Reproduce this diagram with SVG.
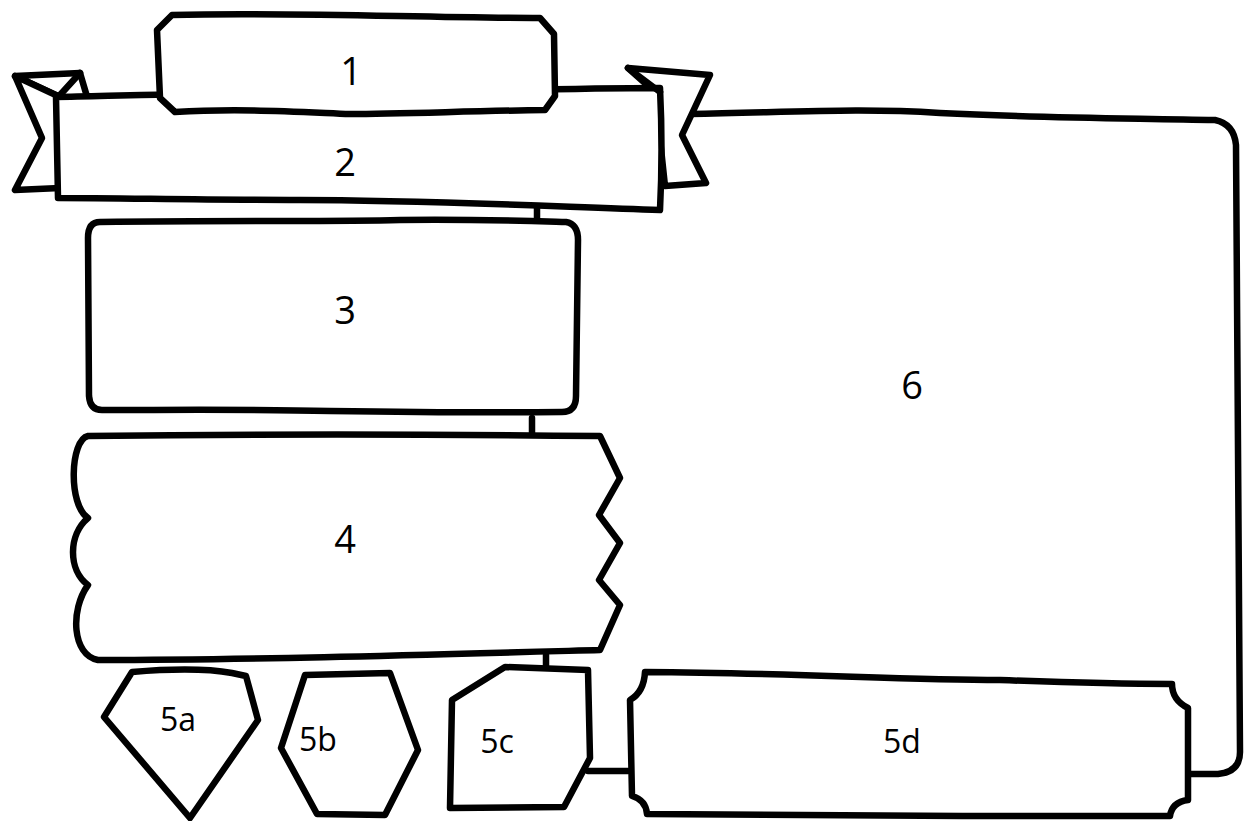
<svg xmlns="http://www.w3.org/2000/svg" width="1253" height="821" viewBox="0 0 1253 821">
<style>
.s{fill:#fff;stroke:#000;stroke-width:6.5;stroke-linejoin:round;stroke-linecap:round}
.c{fill:none;stroke:#000;stroke-width:6.5;stroke-linejoin:round;stroke-linecap:round}
.t{font-family:"Open Sans","DejaVu Sans",sans-serif;font-size:38px;fill:#000;text-anchor:middle;dominant-baseline:central}
.ts{font-family:"Open Sans","DejaVu Sans",sans-serif;font-size:32px;fill:#000;text-anchor:middle;dominant-baseline:central}
</style>
<rect width="1253" height="821" fill="#fff"/>
<g id="connectors">
<path class="c" d="M537 205 L537 222"/>
<path class="c" d="M532 418 L532 436"/>
<path class="c" d="M546 655 L546 670"/>
<path class="c" d="M588 771 L628 771"/>
</g>
<g id="node6">
<path class="c" d="M690 114 C800 112 860 108 940 113 C1040 118 1120 118 1215 120 Q1234 124 1236 145 L1240 752 Q1240 772 1218 774 L1187 774"/>
<text class="t" x="912" y="384">6</text>
</g>
<g id="node2">
<path class="s" d="M60 97 L15 76 L80 73 L88 100 Z"/>
<path class="s" d="M15 76 L42 138 L15 190 L60 188 L60 97 Z"/>
<path class="s" d="M655 92 L628 68 L710 75 L682 135 L706 183 L665 186 Z"/>
<path class="s" d="M56 97 C120 96 200 92 300 95 C420 94 540 88 660 88 Q663 150 660 210 C540 206 420 200 300 200 C200 200 120 198 58 198 Q57 150 56 97 Z"/>
<path class="c" d="M628 68 L660 92"/>
<path class="c" d="M80 73 L60 95"/>
<text class="t" x="345" y="161">2</text>
</g>
<g id="node1">
<path class="s" d="M172 15 C300 12 420 18 540 18 L554 34 L555 96 L545 110 C470 111 400 114 350 114 C300 112 240 108 175 112 L160 98 L157 30 Z"/>
<text class="t" x="351" y="70">1</text>
</g>
<g id="node3">
<path class="s" d="M100 222 C250 220 330 222 400 220 C470 219 530 221 566 222 Q578 224 578 240 L576 396 Q576 412 562 412 C470 413 400 412 330 411 C250 409 170 410 102 410 Q90 410 89 396 L88 238 Q88 222 100 222 Z"/>
<text class="t" x="345" y="309">3</text>
</g>
<g id="node4">
<path class="s" d="M88 436 C250 434 420 434 600 436 L620 478 L599 515 L620 543 L599 580 L620 605 L600 650 C420 655 250 660 98 660 C72 655 70 610 88 585 C68 570 68 535 88 518 C68 505 70 440 88 436 Z"/>
<text class="t" x="345" y="538">4</text>
</g>
<g id="node5a">
<path class="s" d="M132 672 C180 668 215 670 232 673 L246 676 L258 720 L190 818 L104 717 Z"/>
<text class="ts" x="178" y="718">5a</text>
</g>
<g id="node5b">
<path class="s" d="M305 675 L390 673 L418 750 L385 815 L317 814 L281 748 Z"/>
<text class="ts" x="318" y="738">5b</text>
</g>
<g id="node5c">
<path class="s" d="M452 700 L505 667 L588 670 L590 758 L564 807 L450 808 Z"/>
<text class="ts" x="497" y="740">5c</text>
</g>
<g id="node5d">
<path class="s" d="M645 672 C800 673 900 680 1000 680 C1080 683 1130 684 1172 684 Q1172 700 1188 708 L1188 800 Q1172 802 1170 816 C1000 816 800 816 647 814 Q646 800 632 796 L630 700 Q644 692 645 672 Z"/>
<text class="ts" x="902" y="740">5d</text>
</g>
</svg>
